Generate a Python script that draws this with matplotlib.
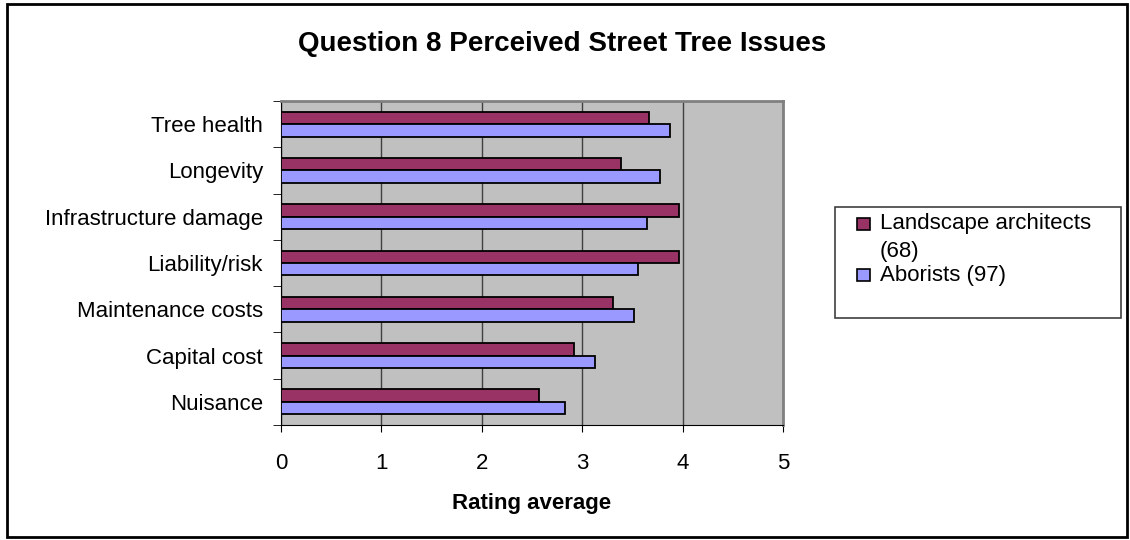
import numpy as np
import matplotlib
matplotlib.use("Agg")
import matplotlib.pyplot as plt
from matplotlib.patches import Rectangle

plt.rcParams['font.family'] = ['Liberation Sans', 'DejaVu Sans']

categories = ["Tree health", "Longevity", "Infrastructure damage", "Liability/risk",
              "Maintenance costs", "Capital cost", "Nuisance"]
landscape = [3.67, 3.39, 3.96, 3.96, 3.31, 2.92, 2.57]
arborists = [3.87, 3.77, 3.65, 3.56, 3.52, 3.13, 2.83]
series_names = ["Landscape architects\n(68)", "Aborists (97)"]
series_colors = ['#993366', '#9999FF']
xticks = [0, 1, 2, 3, 4, 5]

W, H = 1130, 540
fig = plt.figure(figsize=(W / 100, H / 100), dpi=100)

def fx(px):
    return px / W

def fy(py):
    return 1 - py / H

# outer chart border
fig.patches.append(Rectangle((fx(7), fy(537)), fx(1127) - fx(7), fy(4) - fy(537),
                             transform=fig.transFigure, fill=False,
                             edgecolor='black', linewidth=2))

ax = fig.add_axes([fx(281), fy(425), fx(783) - fx(281), fy(101) - fy(425)])
ax.set_facecolor('#C0C0C0')

n = len(categories)
y = np.arange(n)
h = 0.27
ax.barh(y - h/2, landscape, height=h, color=series_colors[0], edgecolor='black',
        linewidth=1.3, zorder=3)
ax.barh(y + h/2, arborists, height=h, color=series_colors[1], edgecolor='black',
        linewidth=1.3, zorder=3)

ax.set_xlim(0, 5)
ax.set_ylim(n - 0.5, -0.5)
ax.set_xticks(xticks)
ax.set_xticklabels([str(t) for t in xticks], fontsize=16)
ax.tick_params(axis='x', length=5, direction='out', pad=15)

ax.set_yticks(y)
ax.set_yticklabels(categories, fontsize=16)
ax.tick_params(axis='y', length=0, pad=13)
ax.set_yticks(np.arange(n + 1) - 0.5, minor=True)
ax.tick_params(axis='y', which='minor', length=6, direction='out')

ax.grid(axis='x', color='#404040', linewidth=1, zorder=1)
for side in ['top', 'right']:
    ax.spines[side].set_color('#808080')
    ax.spines[side].set_linewidth(2)
for side in ['left', 'bottom']:
    ax.spines[side].set_color('black')

ax.set_xlabel("Rating average", fontsize=16, fontweight='bold', labelpad=14)
fig.text(fx(562), fy(44), "Question 8 Perceived Street Tree Issues", fontsize=20,
         fontweight='bold', ha='center', va='center')

# legend box
fig.patches.append(Rectangle((fx(835), fy(318)), fx(1121) - fx(835), fy(207) - fy(318),
                             transform=fig.transFigure, fill=False,
                             edgecolor='#404040', linewidth=1.2))
entry_y = [224, 275]
for name, col, ey in zip(series_names, series_colors, entry_y):
    fig.patches.append(Rectangle((fx(857), fy(ey + 6)), fx(870) - fx(857), fy(ey - 6) - fy(ey + 6),
                                 transform=fig.transFigure, facecolor=col,
                                 edgecolor='black', linewidth=1.2))
    lines = name.split("\n")
    for i, line in enumerate(lines):
        fig.text(fx(880), fy(ey + i * 27), line, fontsize=16, ha='left', va='center')

fig.savefig("out.png", dpi=100)
